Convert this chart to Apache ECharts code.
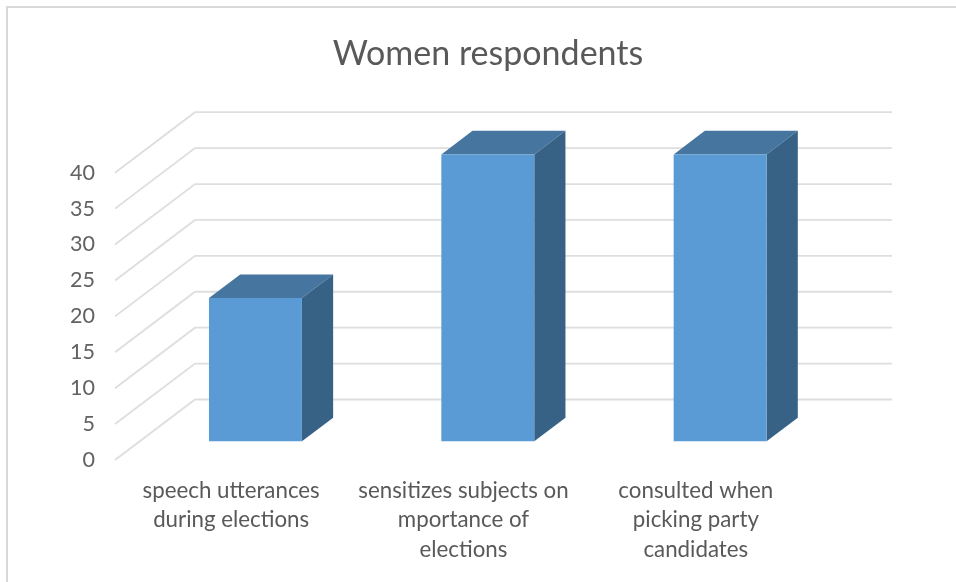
<!DOCTYPE html>
<html>
<head>
<meta charset="utf-8">
<style>html,body{margin:0;padding:0;background:#fff}#chart{width:956px;height:582px}</style>
<script src="https://cdn.jsdelivr.net/npm/echarts@6/dist/echarts.min.js"></script>
</head>
<body>
<div id="chart"></div>
<script>
const categories = [
  'speech utterances\nduring elections',
  'sensitizes subjects on\nmportance of\nelections',
  'consulted when\npicking party\ncandidates'
];
const responses = [20, 40, 40];
const gridTicks = [0, 5, 10, 15, 20, 25, 30, 35, 40];

// Oblique projection: how far the back wall sits from the front plane.
const wallDx = 80, wallDy = 60.5;
// Bars stand between these fractions of the floor depth.
const barNear = 0.31, barFar = 0.70;
const barWidthRatio = 0.4;

const chart = echarts.init(document.getElementById('chart'));

function renderWalls(params, api) {
  const rect = params.coordSys;
  const y = api.coord([0, api.value(1)])[1];
  const x0 = rect.x;
  const backX = x0 + wallDx, backY = y - wallDy;
  return {
    type: 'polyline',
    shape: { points: [[x0, y], [backX, backY], [backX + rect.width, backY]] },
    style: { stroke: '#dedede', lineWidth: 1.8, fill: null }
  };
}

function renderBar(params, api) {
  const base = api.coord([api.value(0), 0]);
  const top = api.coord([api.value(0), api.value(1)]);
  const w = api.size([1, 0])[0] * barWidthRatio;
  const nx = wallDx * barNear, ny = wallDy * barNear;
  const dx = wallDx * (barFar - barNear), dy = wallDy * (barFar - barNear);
  const l = base[0] - w / 2 + nx - 0.5, r = l + w;
  const by = base[1] - ny, ty = top[1] - ny + 0.5;
  const poly = (points, fill) => ({
    type: 'polygon',
    shape: { points },
    style: { fill }
  });
  return {
    type: 'group',
    children: [
      poly([[l, ty], [r, ty], [r + dx, ty - dy], [l + dx, ty - dy]], '#4675a0'),
      poly([[r, ty], [r + dx, ty - dy], [r + dx, by - dy], [r, by]], '#376286'),
      poly([[l, ty], [r, ty], [r, by], [l, by]], '#5b9bd5')
    ]
  };
}

chart.setOption({
  animation: false,
  backgroundColor: '#ffffff',
  title: {
    text: 'Women respondents',
    left: 483,
    top: 32,
    textAlign: 'center',
    textStyle: { fontFamily: 'Lato', fontSize: 34, fontWeight: 'normal', color: '#595959' }
  },
  graphic: [{
    type: 'rect',
    silent: true,
    z: -1,
    shape: { x: 7, y: 7, width: 1000, height: 700 },
    style: { fill: 'none', stroke: '#d9d9d9', lineWidth: 2 }
  }],
  grid: { left: 115, right: 144, top: 172.7, bottom: 122 },
  xAxis: {
    type: 'category',
    data: categories,
    axisLine: { show: false },
    axisTick: { show: false },
    axisLabel: {
      interval: 0,
      margin: 16,
      fontFamily: 'Lato',
      fontSize: 22.3,
      lineHeight: 29.5,
      color: '#595959',
      align: 'center'
    }
  },
  yAxis: {
    type: 'value',
    min: gridTicks[0],
    max: gridTicks[gridTicks.length - 1],
    interval: 5,
    axisLine: { show: false },
    axisTick: { show: false },
    splitLine: { show: false },
    axisLabel: { margin: 20, fontFamily: 'Lato', fontSize: 21.5, padding: [5, 0, 0, 0], color: '#626262' }
  },
  series: [
    {
      type: 'custom',
      name: 'walls',
      z: 1,
      silent: true,
      renderItem: renderWalls,
      data: gridTicks.map(t => [0, t])
    },
    {
      type: 'custom',
      name: 'Women respondents',
      z: 2,
      renderItem: renderBar,
      data: responses.map((v, i) => [i, v])
    }
  ]
});
</script>
</body>
</html>
